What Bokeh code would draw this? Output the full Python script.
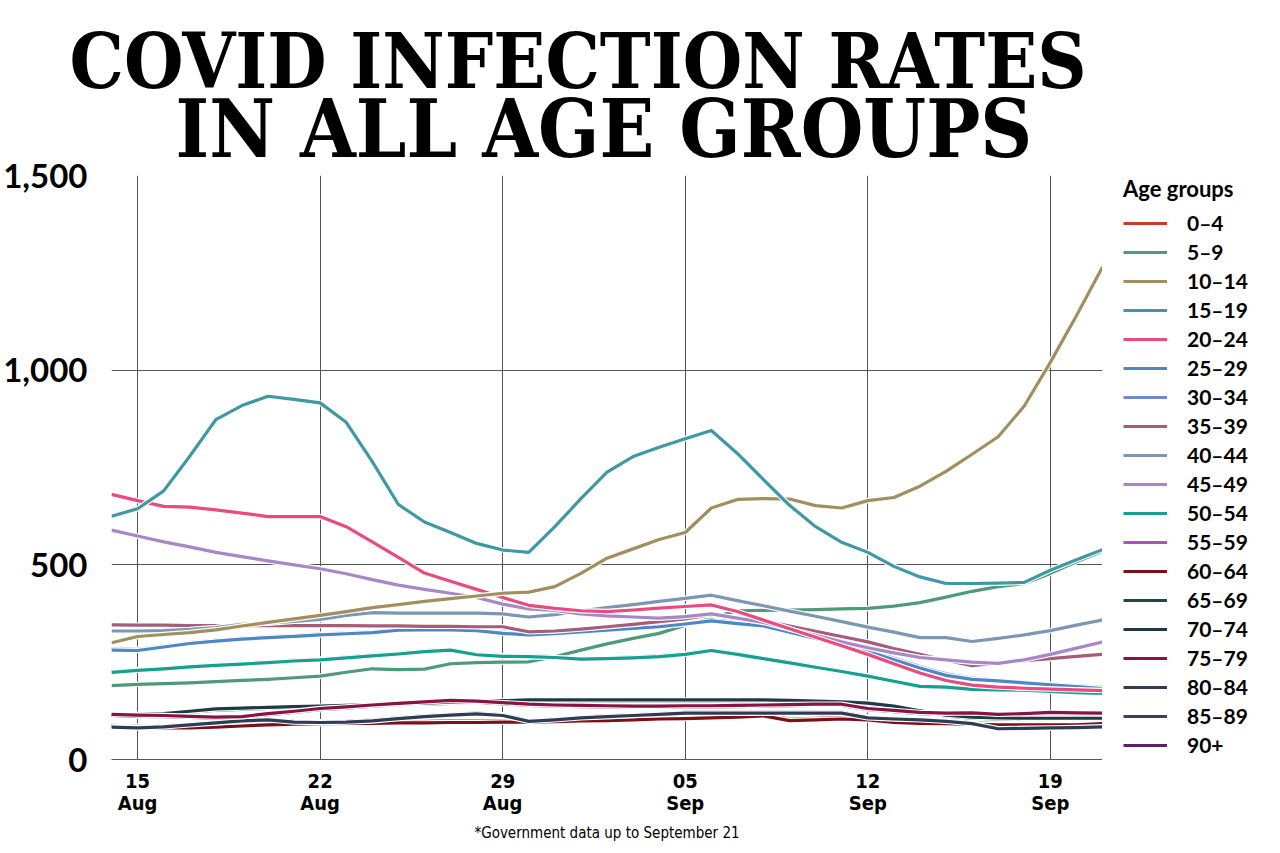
import pandas as pd
from bokeh.plotting import figure
from bokeh.models import Range1d, FixedTicker, Legend, LegendItem, Title
from bokeh.layouts import row
from bokeh.embed import file_html
from bokeh.resources import INLINE

# ---------------- data ----------------
start_date = "2021-08-14"
end_date = "2021-09-21"
dates = pd.date_range(start_date, end_date, freq="D")
day = [int(d) for d in (dates - pd.Timestamp("2021-08-15")).days]

tick_days = [0, 7, 14, 21, 28, 35]
tick_labels = ["15\nAug", "22\nAug", "29\nAug", "05\nSep", "12\nSep", "19\nSep"]
y_ticks = [0, 500, 1000, 1500]
y_tick_labels = ["0", "500", "1,000", "1,500"]

title_line1 = "COVID INFECTION RATES"
title_line2 = "IN ALL AGE GROUPS"
footnote = "*Government data up to September 21"
legend_title = "Age groups"

age_groups = ["0–4", "5–9", "10–14", "15–19", "20–24", "25–29", "30–34", "35–39",
              "40–44", "45–49", "50–54", "55–59", "60–64", "65–69", "70–74",
              "75–79", "80–84", "85–89", "90+"]
colors = ["#cc3a2c", "#4f9a7b", "#a38f5e", "#3f98a3", "#ea4a7e", "#4d87c6",
          "#6c89d1", "#a75c7a", "#7c97b3", "#a688c9", "#16a08f", "#b14fc1",
          "#7a1119", "#1f4a3e", "#1f3a47", "#8a1441", "#2d3d55", "#3f3e5a",
          "#5f1f6b"]

age_0_4 = [88, 86, 85, 85, 87, 90, 93, 95, 96, 97, 97, 98, 98, 99, 99, 100, 100, 101, 103, 104,
           106, 108, 109, 111, 113, 116, 104, 106, 108, 106, 99, 97, 96, 94, 93, 93, 93, 93, 96]
age_5_9 = [190, 193, 195, 197, 200, 203, 206, 210, 214, 224, 233, 231, 232, 246, 249, 250, 251, 264, 281, 297,
           311, 324, 345, 364, 382, 383, 384, 385, 387, 388, 394, 403, 417, 432, 444, 452, 478, 508, 535]
age_10_14 = [300, 316, 321, 326, 333, 343, 352, 361, 370, 380, 390, 398, 406, 413, 420, 427, 430, 444, 478, 517,
             541, 565, 583, 646, 668, 670, 669, 652, 646, 665, 673, 702, 740, 784, 829, 908, 1020, 1140, 1265]
age_15_19 = [625, 644, 690, 779, 873, 909, 933, 925, 916, 866, 765, 655, 610, 583, 555, 538, 532, 598, 670, 738,
             778, 802, 824, 845, 786, 719, 653, 598, 558, 532, 496, 469, 452, 452, 453, 455, 486, 513, 539]
age_20_24 = [681, 665, 650, 648, 641, 633, 624, 624, 624, 598, 559, 519, 479, 458, 437, 416, 396, 388, 382, 380,
             384, 389, 393, 397, 380, 358, 336, 314, 292, 270, 246, 222, 203, 191, 186, 183, 181, 179, 177]
age_25_29 = [281, 280, 289, 298, 304, 309, 313, 316, 320, 323, 326, 332, 333, 333, 331, 324, 320, 323, 328, 332,
             337, 341, 348, 356, 349, 343, 327, 311, 296, 278, 256, 235, 216, 206, 202, 197, 192, 187, 182]
age_30_34 = [284, 283, 291, 300, 306, 311, 315, 318, 322, 325, 328, 334, 335, 335, 333, 327, 323, 326, 331, 335,
             340, 345, 352, 360, 353, 346, 330, 314, 298, 281, 260, 239, 220, 209, 204, 199, 194, 189, 185]
age_35_39 = [346, 345, 345, 344, 344, 344, 344, 344, 344, 344, 343, 343, 342, 342, 341, 341, 328, 330, 335, 341,
             347, 354, 361, 372, 362, 357, 343, 329, 316, 302, 285, 270, 255, 241, 248, 254, 259, 265, 270]
age_40_44 = [330, 330, 331, 334, 339, 347, 350, 355, 360, 370, 377, 376, 376, 376, 376, 374, 366, 372, 382, 390,
             398, 406, 414, 422, 408, 395, 381, 368, 354, 340, 327, 313, 313, 303, 311, 320, 331, 345, 358]
age_45_49 = [589, 574, 559, 546, 532, 521, 510, 500, 490, 477, 462, 448, 437, 427, 416, 399, 387, 383, 374, 369,
             366, 363, 367, 374, 363, 352, 335, 319, 302, 287, 274, 262, 256, 250, 247, 256, 270, 286, 302]
age_50_54 = [224, 229, 233, 238, 242, 245, 249, 253, 256, 261, 266, 271, 277, 281, 269, 265, 264, 262, 258, 259,
             261, 264, 270, 280, 270, 259, 248, 237, 226, 214, 201, 188, 186, 180, 179, 178, 175, 172, 170]
age_55_59 = [226, 231, 235, 240, 244, 247, 251, 255, 258, 263, 268, 273, 279, 283, 271, 267, 266, 264, 260, 261,
             263, 266, 272, 282, 272, 261, 250, 239, 228, 216, 203, 190, 188, 182, 181, 180, 177, 174, 172]
age_60_64 = [84, 82, 81, 81, 83, 86, 89, 91, 92, 93, 93, 94, 94, 95, 95, 96, 96, 97, 99, 100,
             102, 104, 105, 107, 109, 112, 100, 102, 104, 102, 95, 93, 92, 90, 89, 89, 89, 89, 92]
age_65_69 = [113, 113, 115, 121, 127, 129, 131, 133, 134, 136, 138, 140, 142, 144, 146, 148, 150, 150, 150, 150,
             150, 150, 150, 150, 150, 150, 149, 147, 145, 142, 134, 122, 111, 106, 104, 103, 103, 103, 103]
age_70_74 = [116, 116, 118, 124, 130, 132, 134, 136, 137, 139, 141, 143, 145, 147, 149, 151, 153, 153, 153, 153,
             153, 153, 153, 153, 153, 153, 152, 150, 148, 145, 137, 125, 114, 109, 107, 106, 106, 106, 106]
age_75_79 = [116, 114, 113, 111, 109, 110, 118, 124, 131, 135, 140, 144, 148, 152, 150, 146, 142, 140, 139, 138,
             137, 137, 138, 138, 139, 140, 141, 142, 142, 131, 126, 121, 119, 120, 116, 118, 121, 120, 119]
age_80_84 = [83, 81, 84, 89, 94, 99, 102, 96, 95, 96, 99, 105, 110, 114, 117, 113, 98, 102, 107, 110,
             113, 116, 119, 119, 119, 119, 119, 119, 119, 107, 104, 102, 98, 92, 79, 80, 81, 82, 84]
age_85_89 = [85, 83, 86, 91, 96, 101, 104, 98, 97, 98, 101, 107, 112, 116, 119, 115, 100, 104, 109, 112,
             115, 118, 121, 121, 121, 121, 121, 121, 121, 109, 106, 104, 100, 94, 81, 82, 83, 84, 86]
age_90_plus = [113, 111, 110, 108, 106, 107, 115, 121, 128, 132, 137, 141, 145, 149, 147, 143, 139, 137, 136, 135,
               134, 134, 135, 135, 136, 137, 138, 139, 139, 128, 123, 118, 116, 117, 113, 115, 118, 117, 116]

series = [age_0_4, age_5_9, age_10_14, age_15_19, age_20_24, age_25_29, age_30_34, age_35_39,
          age_40_44, age_45_49, age_50_54, age_55_59, age_60_64, age_65_69, age_70_74,
          age_75_79, age_80_84, age_85_89, age_90_plus]

# drawing order (bottom to top)
draw_order = ["55–59", "30–34", "0–4", "65–69", "85–89", "90+", "60–64", "80–84",
              "70–74", "75–79", "5–9", "50–54", "25–29", "35–39", "40–44",
              "45–49", "20–24", "10–14", "15–19"]

# ---------------- main chart ----------------
p = figure(width=1102, height=853, x_range=Range1d(-1, 37), y_range=Range1d(0, 1500),
           output_backend="svg", toolbar_location=None,
           min_border_left=110, min_border_right=0, min_border_top=175,
           min_border_bottom=94)
p.outline_line_color = None
p.background_fill_color = "white"
p.border_fill_color = "white"

title_font = "DejaVu Serif Condensed"
# outer (top) title line
p.title.text = title_line1
p.title.align = "left"
p.title.offset = -42
p.title.text_font = title_font
p.title.text_font_size = "76px"
p.title.text_font_style = "bold"
p.title.text_color = "black"
try:
    p.title.standoff = -53
except Exception:
    p.title.standoff = 0

# inner title line (next to the chart)
p.add_layout(Title(text=title_line2, align="left", offset=64, standoff=0,
                   text_font=title_font, text_font_size="80px", text_font_style="bold",
                   text_color="black"), "above")

p.add_layout(Title(text=footnote, align="center", standoff=6,
                   text_font="DejaVu Sans Condensed", text_font_size="15px",
                   text_font_style="normal", text_color="black"), "below")

renderers = {}
for name in draw_order:
    i = age_groups.index(name)
    p.line(day, series[i], line_color="white", line_width=5.5, line_join="round")
    renderers[name] = p.line(day, series[i], line_color=colors[i], line_width=3.2,
                             line_join="round")

p.xaxis.ticker = FixedTicker(ticks=tick_days)
p.xaxis.major_label_overrides = dict(zip(tick_days, tick_labels))
p.xaxis.axis_line_color = "#555555"
p.xaxis.major_tick_line_color = None
p.xaxis.minor_tick_line_color = None
p.xaxis.major_label_text_font = "DejaVu Sans Condensed"
p.xaxis.major_label_text_font_style = "bold"
p.xaxis.major_label_text_font_size = "20px"
p.xaxis.major_label_text_line_height = 0.95
p.xaxis.major_label_text_color = "black"
p.xaxis.major_label_standoff = 3

p.yaxis.ticker = FixedTicker(ticks=y_ticks)
p.yaxis.major_label_overrides = dict(zip(y_ticks, y_tick_labels))
p.yaxis.axis_line_color = None
p.yaxis.major_tick_line_color = None
p.yaxis.minor_tick_line_color = None
p.yaxis.major_label_text_font = "Lato"
p.yaxis.major_label_text_font_style = "bold"
p.yaxis.major_label_text_font_size = "33px"
p.yaxis.major_label_text_color = "black"
p.yaxis.major_label_standoff = 18

p.xgrid.ticker = FixedTicker(ticks=tick_days)
p.ygrid.ticker = FixedTicker(ticks=y_ticks)
p.grid.grid_line_color = "#555555"
p.grid.grid_line_width = 1

# ---------------- legend panel ----------------
pl = figure(width=178, height=853, output_backend="svg", toolbar_location=None,
            x_axis_type=None, y_axis_type=None,
            min_border_left=0, min_border_right=0, min_border_top=0, min_border_bottom=0)
pl.outline_line_color = None
pl.border_fill_color = "white"
pl.background_fill_color = "white"
pl.title.text = ""
pl.title.visible = False

items = []
for name in age_groups:
    i = age_groups.index(name)
    # single-point proxy: draws no visible segment, but gives the legend a glyph
    proxy = pl.line(x=[day[0]], y=[series[i][0]], line_color=colors[i], line_width=3.2)
    items.append(LegendItem(label=name, renderers=[proxy]))

legend = Legend(items=items, title=legend_title, location=(21, 2),
                margin=0, padding=0, spacing=4, glyph_width=44, glyph_height=24,
                label_height=24, label_standoff=20, title_standoff=8,
                label_text_font="Lato", label_text_font_style="bold",
                label_text_font_size="21px", label_text_color="black",
                title_text_font="Lato", title_text_font_style="bold",
                title_text_font_size="22px", title_text_color="black",
                border_line_color=None, background_fill_alpha=0)
pl.add_layout(legend)

layout = row(p, pl)
open("out.html", "w").write(file_html(layout, INLINE))
